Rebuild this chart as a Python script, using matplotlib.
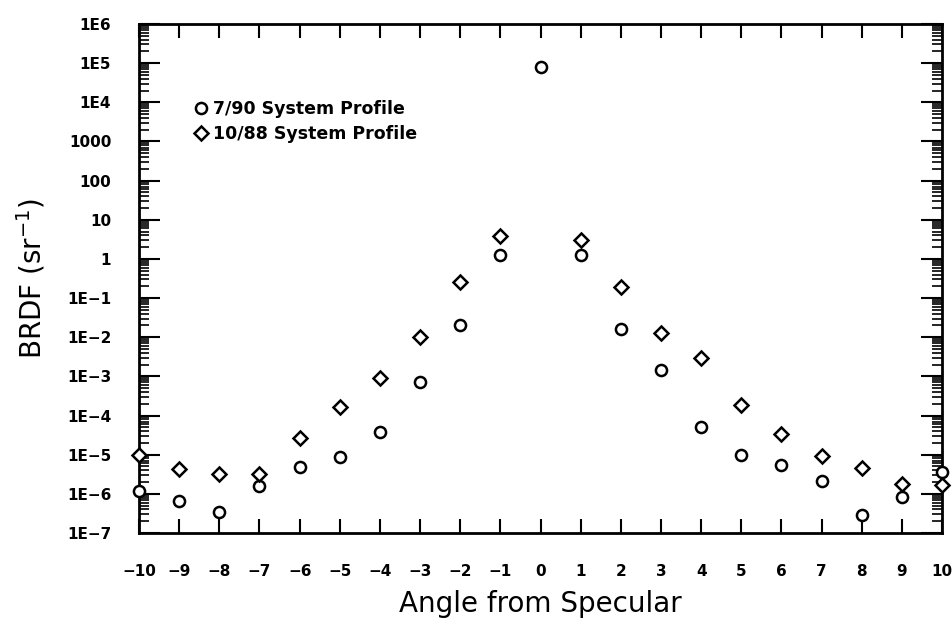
import matplotlib
matplotlib.use("Agg")
import matplotlib.pyplot as plt
import numpy as np
from matplotlib.ticker import FixedLocator, LogLocator, NullFormatter

angles = list(range(-10, 11))

# 7/90 system profile (circles)
brdf_790 = [1.2e-6, 6.6e-7, 3.4e-7, 1.6e-6, 4.9e-6, 8.5e-6, 3.7e-5, 7.0e-4,
            2.0e-2, 1.26, 8.0e4, 1.26, 1.6e-2, 1.45e-3, 5.1e-5, 1.0e-5,
            5.6e-6, 2.1e-6, 2.8e-7, 8.1e-7, 3.7e-6]

# 10/88 system profile (diamonds), no value at 0
angles_1088 = [a for a in angles if a != 0]
brdf_1088 = [9.8e-6, 4.3e-6, 3.2e-6, 3.2e-6, 2.7e-5, 1.7e-4, 9.3e-4, 1.03e-2,
             0.26, 3.9, 3.0, 0.19, 1.26e-2, 2.9e-3, 1.9e-4, 3.4e-5,
             9.3e-6, 4.5e-6, 1.8e-6, 1.7e-6]

ytick_vals = [1e-7, 1e-6, 1e-5, 1e-4, 1e-3, 1e-2, 1e-1, 1, 10, 100, 1000, 1e4, 1e5, 1e6]
ytick_labels = ["1E-7", "1E-6", "1E-5", "1E-4", "1E-3", "1E-2", "1E-1",
                "1", "10", "100", "1000", "1E4", "1E5", "1E6"]

fig = plt.figure(figsize=(9.53, 6.22), dpi=100)
ax = fig.add_axes([0.1459, 0.1431, 0.8426, 0.8183])

ax.plot(angles, brdf_790, linestyle="none", marker="o", markersize=8,
        markerfacecolor="white", markeredgecolor="black", markeredgewidth=1.8,
        clip_on=False, label="7/90 System Profile", zorder=3)
ax.plot(angles_1088, brdf_1088, linestyle="none", marker="D", markersize=7.5,
        markerfacecolor="white", markeredgecolor="black", markeredgewidth=1.8,
        clip_on=False, label="10/88 System Profile", zorder=3)

ax.set_yscale("log")
ax.set_xlim(-10, 10)
ax.set_ylim(1e-7, 1e6)

ax.set_xticks(angles)
ax.set_xticklabels([str(a).replace("-", "\u2212") for a in angles],
                   fontsize=11, fontweight="bold")
ax.yaxis.set_major_locator(FixedLocator(ytick_vals))
ax.set_yticklabels([t.replace("-", "\u2212") for t in ytick_labels],
                   fontsize=11, fontweight="bold")
ax.yaxis.set_minor_locator(LogLocator(base=10, subs=np.arange(2, 10), numticks=100))
ax.yaxis.set_minor_formatter(NullFormatter())

ax.tick_params(axis="x", which="major", direction="in", length=10, width=1.5,
               top=True, bottom=True, pad=22)
ax.tick_params(axis="y", which="major", direction="in", length=15, width=1.5,
               left=True, right=True, pad=20)
ax.tick_params(axis="y", which="minor", direction="in", length=7, width=1.2,
               left=True, right=True)

for s in ax.spines.values():
    s.set_linewidth(2)

ax.set_xlabel("Angle from Specular", fontsize=20, labelpad=8)
ax.set_ylabel("BRDF (sr$^{\u22121}$)", fontsize=20, labelpad=14)

ax.legend(loc="upper left", bbox_to_anchor=(0.058, 0.865), frameon=False,
          handletextpad=0.2, borderaxespad=0, labelspacing=0.45, handlelength=1,
          prop={"size": 12.5, "weight": "bold"})

fig.savefig("out.png", dpi=100)
